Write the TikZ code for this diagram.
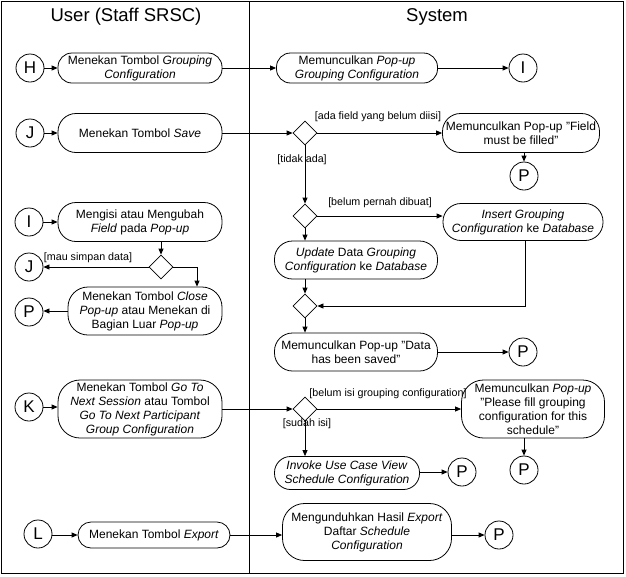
\documentclass[tikz,border=0pt]{standalone}
\usepackage{fontspec}
\setmainfont{Liberation Sans}
\usetikzlibrary{shapes.geometric,arrows.meta}
\begin{document}
\begin{tikzpicture}[x=1pt,y=-1pt,
  txt/.style={font=\fontsize{10.7}{13.5}\selectfont},
  btxt/.style={font=\fontsize{12}{14}\selectfont},
  act/.style={draw,line width=0.8pt,rounded corners=#1,inner sep=0pt,align=center,btxt},
  act/.default=14pt,
  conn/.style={draw,circle,line width=0.8pt,minimum size=28pt,inner sep=0pt,font=\fontsize{17}{18}\selectfont},
  dec/.style={draw,diamond,line width=0.8pt,minimum width=24pt,minimum height=24pt,inner sep=0pt},
  arr/.style={draw,line width=0.8pt,-{Triangle[length=6pt,width=5pt]}},
  lbl/.style={txt,inner sep=0pt},
  hdr/.style={font=\fontsize{18.5}{20}\selectfont,inner sep=0pt}]
\useasboundingbox (0,0) rectangle (626,576);
\draw[line width=0.9pt] (1,1) rectangle (623,573);
\draw[line width=0.9pt] (249,1) -- (249,573);
\node[hdr] (hu) at (126,17) {User (Staff SRSC)};
\node[hdr] (hs) at (437,17) {System};

% row 1
\node[conn] (H) at (30,68) {H};
\node[act, minimum width=164pt, minimum height=30pt] (A1) at (140,68) {Menekan Tombol \textit{Grouping}\\\textit{Configuration}};
\node[act, minimum width=161pt, minimum height=30pt] (S1) at (357,68) {Memunculkan \textit{Pop-up}\\\textit{Grouping Configuration}};
\node[conn] (I1) at (523,68) {I};
\draw[arr] (H) -- (A1);
\draw[arr] (A1) -- (S1);
\draw[arr] (S1) -- (I1);

% row 2
\node[conn] (J) at (30,133) {J};
\node[act=18pt, minimum width=164pt, minimum height=39pt] (A2) at (140,133) {Menekan Tombol \textit{Save}};
\node[dec] (D1) at (305,133) {};
\node[act=18pt, minimum width=157pt, minimum height=39pt] (F) at (521,133) {Memunculkan Pop-up "Field\\must be filled"};
\node[conn] (P1) at (524,176) {P};
\draw[arr] (J) -- (A2);
\draw[arr] (A2) -- (D1);
\draw[arr] (D1) -- (F);
\draw[arr] (P1 |- F.south) -- (P1);
\node[lbl] (l1) at (378,117) {[ada field yang belum diisi]};
\node[lbl] (l2) at (302,160) {[tidak ada]};

\node[dec] (D2) at (305,216) {};
\node[act=18pt, minimum width=160pt, minimum height=37pt] (Ins) at (523,222) {\textit{Insert Grouping}\\\textit{Configuration} ke \textit{Database}};
\node[act=18pt, minimum width=163pt, minimum height=38pt] (Upd) at (356,260) {\textit{Update} Data \textit{Grouping}\\\textit{Configuration} ke \textit{Database}};
\node[dec] (D3) at (305,306) {};
\node[act=18pt, minimum width=163pt, minimum height=38pt] (Sv) at (356,352) {Memunculkan Pop-up "Data\\has been saved"};
\node[conn] (P3) at (523,352) {P};
\node[lbl] (l3) at (380,203) {[belum pernah dibuat]};
\draw[arr] (D1) -- (D2);
\draw[arr] (D2.east) -- (D2.east -| Ins.west);
\draw[arr] (D2.south) -- (D2.south |- Upd.north);
\draw[arr] (D3.north |- Upd.south) -- (D3.north);
\draw[arr] ([xshift=2pt]Ins.south) |- (D3.east);
\draw[arr] (D3.south) -- (D3.south |- Sv.north);
\draw[arr] (Sv) -- (P3);

% left: I
\node[conn] (I2) at (29,222) {I};
\node[act=18pt, minimum width=164pt, minimum height=39pt] (IA) at (140,222) {Mengisi atau Mengubah\\\textit{Field} pada \textit{Pop-up}};
\node[dec] (D4) at (161,267) {};
\node[conn] (J2) at (29,267) {J};
\node[act=20pt, minimum width=154pt, minimum height=48pt] (Cl) at (145,311) {Menekan Tombol \textit{Close}\\\textit{Pop-up} atau Menekan di\\Bagian Luar \textit{Pop-up}};
\node[conn] (P2) at (29,312) {P};
\node[lbl] (l4) at (88,258) {[mau simpan data]};
\draw[arr] (I2) -- (IA);
\draw[arr] (IA.south -| D4) -- (D4.north);
\draw[arr] (D4.west) -- (J2);
\draw[arr] (D4.east) -| ([xshift=52pt]Cl.north);
\draw[arr] (Cl.west) -- (Cl.west -| P2.east);

% row K
\node[conn] (K) at (29,407) {K};
\node[act=22pt, minimum width=164pt, minimum height=58pt] (KA) at (140,409) {Menekan Tombol \textit{Go To}\\\textit{Next Session} atau Tombol\\\textit{Go To Next Participant}\\\textit{Group Configuration}};
\node[dec] (D5) at (305,409) {};
\node[act=22pt, minimum width=143pt, minimum height=58pt] (Pl) at (533,409) {Memunculkan \textit{Pop-up}\\"Please fill grouping\\configuration for this\\schedule"};
\node[conn] (P4) at (524,470) {P};
\node[act=16pt, minimum width=145pt, minimum height=33pt] (Inv) at (347,473) {\textit{Invoke Use Case View}\\\textit{Schedule Configuration}};
\node[conn] (P5) at (462,472) {P};
\node[lbl] (l5) at (388,394) {[belum isi grouping configuration]};
\node[lbl] (l6) at (307,424) {[sudah isi]};
\draw[arr] (K) -- (K -| KA.west);
\draw[arr] (KA) -- (D5);
\draw[arr] (D5) -- (Pl);
\draw[arr] (P4 |- Pl.south) -- (P4);
\draw[arr] (D5.south) -- (D5.south |- Inv.north);
\draw[arr] (Inv.east |- P5) -- (P5);

% row L
\node[conn] (L) at (38,534) {L};
\node[act=13pt, minimum width=152pt, minimum height=26pt] (EA) at (154,535) {Menekan Tombol \textit{Export}};
\node[act=22pt, minimum width=169pt, minimum height=57pt] (Dl) at (367,532) {Mengunduhkan Hasil \textit{Export}\\Daftar \textit{Schedule}\\\textit{Configuration}};
\node[conn] (P6) at (499,535) {P};
\draw[arr] (L.east |- EA) -- (EA);
\draw[arr] (EA) -- (EA -| Dl.west);
\draw[arr] (EA -| Dl.east) -- (P6);
\end{tikzpicture}
\end{document}
